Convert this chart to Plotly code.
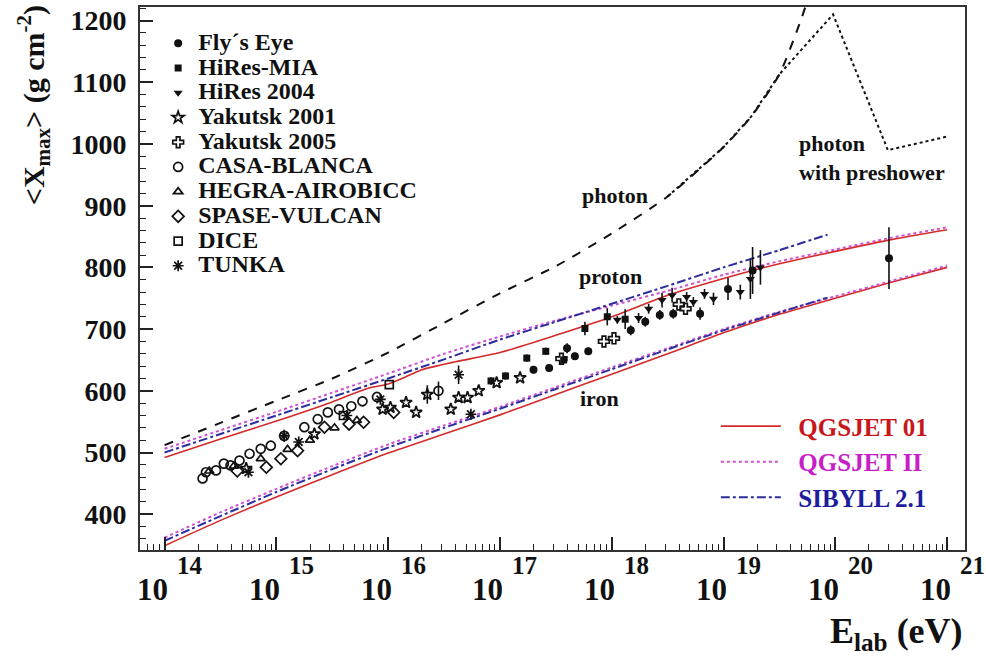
import plotly.graph_objects as go

# ---------------- data (log10 E/eV, <Xmax> in g/cm^2) ----------------
model_lg = [14.0, 14.5, 15.0, 15.5, 16.0, 16.5, 17.0, 17.5, 18.0, 18.5, 19.0, 19.5, 20.0, 20.5, 21.0]
qgs01_p_lg = [14.0, 14.5, 15.0, 15.5, 15.8, 16.0, 16.15, 16.3, 16.6, 17.0, 17.5, 18.0, 18.5, 19.0, 19.26, 19.5, 20.0, 20.5, 21.0]
qgs01_p = [492, 522, 551, 582, 603, 611, 622, 634, 647, 662, 690, 720, 755, 782, 795, 806, 826, 845, 861]
qgs01_fe = [349, 390, 428, 464, 499, 530, 561, 594, 627, 660, 694, 724, 750, 776, 800]
qgs2_p = [506, 536, 566, 597, 628, 660, 688, 714, 738, 762, 788, 810, 829, 848, 865]
qgs2_fe = [362, 403, 441, 478, 513, 544, 574, 606, 638, 669, 700, 728, 753, 778, 803]
sib_lg = [14.0, 14.5, 15.0, 15.5, 16.0, 16.5, 17.0, 17.5, 18.0, 18.5, 19.0, 19.5, 19.93]
sib_p = [500, 530, 560, 590, 620, 651, 683, 712, 741, 770, 800, 828, 853]
sib_fe = [357, 397, 436, 473, 508, 540, 571, 603, 635, 667, 698, 727, 751]

photon_lg = [14.0, 14.5, 15.0, 15.5, 16.0, 16.5, 17.0, 17.5, 18.0, 18.5, 19.0, 19.25, 19.5, 19.7, 19.85]
photon_X = [512, 548, 584, 620, 662, 710, 758, 802, 855, 915, 995, 1045, 1113, 1205, 1290]
pre_lg = [18.5, 19.0, 19.25, 19.5, 19.98, 20.47, 21.0]
pre_X = [915, 995, 1045, 1113, 1210, 990, 1012]

fly_lg = [17.30, 17.44, 17.60, 17.67, 17.79, 18.17, 18.30, 18.43, 18.55, 18.79, 19.04, 19.26, 20.48]
fly_X = [634, 637, 669, 656, 664, 698, 712, 723, 725, 725, 765, 795, 815]
fly_err = [6, 6, 8, 6, 6, 8, 8, 8, 8, 10, 18, 38, 50]

hmia_lg = [16.92, 17.05, 17.24, 17.41, 17.57, 17.76, 17.96, 18.12]
hmia_X = [616, 624, 653, 664, 650, 701, 720, 716]
hmia_err = [6, 6, 6, 6, 6, 11, 14, 16]

hires_lg = [18.05, 18.24, 18.33, 18.45, 18.54, 18.67, 18.73, 18.83, 18.91, 19.15, 19.24, 19.33]
hires_X = [715, 718, 733, 747, 755, 752, 744, 757, 749, 760, 781, 800]
hires_err = [6, 8, 8, 12, 12, 8, 8, 8, 10, 12, 32, 28]

yak01_lg = [14.73, 15.34, 15.95, 16.02, 16.16, 16.25, 16.35, 16.56, 16.63, 16.71, 16.81, 16.97, 17.18]
yak01_X = [474, 530, 570, 573, 581, 565, 594, 570, 589, 589, 600, 613, 621]
yak01_err = [0, 0, 0, 0, 0, 0, 15, 0, 0, 0, 0, 0, 0]

yak05_lg = [17.55, 17.93, 18.02, 18.60, 18.66]
yak05_X = [652, 680, 685, 740, 733]

casa_lg = [14.34, 14.37, 14.46, 14.53, 14.59, 14.67, 14.76, 14.86, 14.95, 15.07, 15.25, 15.37, 15.46, 15.56, 15.67, 15.77, 15.90, 16.45]
casa_X = [458, 468, 471, 482, 479, 487, 498, 506, 511, 527, 541, 554, 565, 570, 575, 583, 590, 600]
casa_err = [0, 0, 0, 0, 0, 0, 0, 0, 0, 10, 0, 0, 0, 0, 0, 0, 0, 15]

hegra_lg = [14.40, 14.62, 14.86, 15.10, 15.30, 15.52, 15.72]
hegra_X = [470, 478, 490, 505, 520, 540, 552]

spase_lg = [14.65, 14.91, 15.04, 15.19, 15.43, 15.65, 15.78, 16.05]
spase_X = [470, 476, 490, 503, 541, 546, 549, 565]

dice_lg = [15.60, 16.01]
dice_X = [560, 610]

tunka_lg = [14.75, 15.07, 15.20, 15.63, 15.93, 16.63, 16.74]
tunka_X = [468, 527, 517, 560, 586, 626, 562]
tunka_err = [0, 8, 0, 0, 0, 15, 0]

x_decades = [14, 15, 16, 17, 18, 19, 20, 21]

# ---------------- figure ----------------
FONT = "Liberation Serif, Times New Roman, serif"
E = lambda lg: [10.0 ** v for v in lg]
NB = "\u00a0"

fig = go.Figure()

RED, MAG, BLU = "#d42a2a", "#d050d0", "#2d2d9e"

def model(lg, vals, color, dash, name, group, show):
    fig.add_trace(go.Scatter(
        x=E(lg), y=vals, mode="lines", name=name, legendgroup=group,
        showlegend=show, legend="legend2",
        line=dict(color=color, width=1.6 if dash == "solid" else 2, dash=dash,
                  shape="spline", smoothing=0.6)))

def mname(txt, col):
    return NB * 2 + '<span style="color:%s">%s</span>' % (col, txt)

model(qgs01_p_lg, qgs01_p, RED, "solid", mname("QGSJET 01", "#c8161b"), "q1", True)
model(model_lg, qgs01_fe, RED, "solid", "QGSJET 01", "q1", False)
model(model_lg, qgs2_p, MAG, "dot", mname("QGSJET II", "#c81ec8"), "q2", True)
model(model_lg, qgs2_fe, MAG, "dot", "QGSJET II", "q2", False)
model(sib_lg, sib_p, BLU, "dashdot", mname("SIBYLL 2.1", "#1c1c9c"), "sb", True)
model(sib_lg, sib_fe, BLU, "dashdot", "SIBYLL 2.1", "sb", False)

fig.add_trace(go.Scatter(x=E(photon_lg), y=photon_X, mode="lines", showlegend=False,
                         line=dict(color="#111", width=2, dash="dash",
                                   shape="spline", smoothing=0.6)))
fig.add_trace(go.Scatter(x=E(pre_lg), y=pre_X, mode="lines", showlegend=False,
                         line=dict(color="#111", width=2, dash="dot")))

def data(lg, vals, sym, name, err=None, size=8):
    open_ = sym.endswith("open")
    fig.add_trace(go.Scatter(
        x=E(lg), y=vals, mode="markers",
        name='<span style="font-size:24px">' + name + '</span>',
        legend="legend",
        marker=dict(symbol=sym, size=size, color="#111",
                    line=dict(color="#111", width=1.7 if open_ else 0)),
        error_y=dict(type="data", array=err, visible=err is not None,
                     thickness=1.6, width=0, color="#111")))

data(fly_lg, fly_X, "circle", "Fly´s Eye", fly_err)
data(hmia_lg, hmia_X, "square", "HiRes-MIA", hmia_err, 7)
data(hires_lg, hires_X, "triangle-down", "HiRes 2004", hires_err)
data(yak01_lg, yak01_X, "star-open", "Yakutsk 2001", yak01_err, 9)
data(yak05_lg, yak05_X, "cross-open", "Yakutsk 2005", None, 9)
data(casa_lg, casa_X, "circle-open", "CASA-BLANCA", casa_err, 9)
data(hegra_lg, hegra_X, "triangle-up-open", "HEGRA-AIROBICC", None, 8)
data(spase_lg, spase_X, "diamond-open", "SPASE-VULCAN", None, 9)
data(dice_lg, dice_X, "square-open", "DICE", None, 8)
data(tunka_lg, tunka_X, "asterisk-open", "TUNKA", tunka_err, 9)

minor_vals = [k * 10.0 ** n for n in range(13, 21) for k in range(2, 10)]

fig.update_xaxes(type="log", range=[13.78, 21.16],
                 tickvals=[10.0 ** d for d in x_decades], showticklabels=False,
                 ticks="inside", ticklen=13, tickwidth=1.5, tickcolor="#222",
                 minor=dict(tickvals=minor_vals, ticks="inside", ticklen=6,
                            tickwidth=1.2, tickcolor="#222", showgrid=False),
                 showgrid=False, zeroline=False,
                 showline=True, linewidth=2, linecolor="#333", mirror=True)
fig.update_yaxes(range=[342, 1222], tick0=0, dtick=100,
                 ticks="inside", ticklen=13, tickwidth=1.5, tickcolor="#222",
                 minor=dict(dtick=20, ticks="inside", ticklen=6, tickwidth=1.2,
                            tickcolor="#222", showgrid=False),
                 tickfont=dict(family=FONT, size=28, color="#111", weight="bold"),
                 ticklabelstandoff=6,
                 showgrid=False, zeroline=False,
                 showline=True, linewidth=2, linecolor="#333", mirror=True)

ann = []
for d in x_decades:
    ann.append(dict(x=d, y=0, xref="x", yref="paper", text="10", showarrow=False,
                    xanchor="center", yanchor="top", xshift=-12, yshift=-20,
                    font=dict(family=FONT, size=31, color="#111", weight="bold")))
    ann.append(dict(x=d, y=0, xref="x", yref="paper", text=str(d), showarrow=False,
                    xanchor="center", yanchor="top", xshift=25, yshift=0,
                    font=dict(family=FONT, size=25, color="#111", weight="bold")))

lab = dict(family=FONT, size=22, color="#111", weight="bold")
ann += [
    dict(x=18.03, y=916, xref="x", yref="y", text="photon", showarrow=False, font=lab),
    dict(x=17.99, y=786, xref="x", yref="y", text="proton", showarrow=False, font=lab),
    dict(x=17.89, y=588, xref="x", yref="y", text="iron", showarrow=False, font=lab),
    dict(x=19.66, y=978, xref="x", yref="y", text="photon<br>with preshower",
         showarrow=False, xanchor="left", align="left", font=lab),
    dict(x=-0.1295, y=1.0, xref="paper", yref="paper", textangle=-90,
         xanchor="center", yanchor="top", yshift=4,
         text="&lt;X<sub>max</sub>&gt; (g cm<sup>-2</sup>)", showarrow=False,
         font=dict(family=FONT, size=30, color="#111", weight="bold")),
    dict(x=1.0, y=-0.153, xref="paper", yref="paper", xanchor="right", yanchor="middle",
         text="E<sub>lab</sub> (eV)", showarrow=False,
         font=dict(family=FONT, size=36, color="#111", weight="bold")),
]

fig.update_layout(
    width=986, height=656,
    margin=dict(l=140, r=21, t=5, b=106),
    paper_bgcolor="white", plot_bgcolor="white",
    annotations=ann,
    legend=dict(x=0.022, y=0.965, xanchor="left", yanchor="top",
                bgcolor="rgba(0,0,0,0)", borderwidth=0,
                font=dict(family=FONT, size=16.7, color="#111", weight="bold"),
                itemsizing="trace", tracegroupgap=0),
    legend2=dict(x=0.698, y=0.27, xanchor="left", yanchor="top",
                 bgcolor="rgba(0,0,0,0)", borderwidth=0, traceorder="grouped",
                 font=dict(family=FONT, size=25, color="#111", weight="bold"),
                 itemwidth=60, tracegroupgap=0),
)

fig.write_html("out.html")
